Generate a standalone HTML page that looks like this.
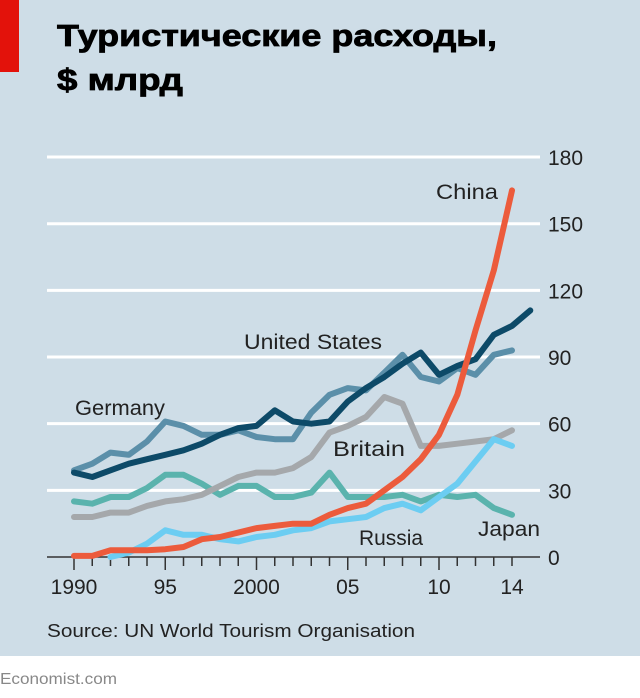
<!DOCTYPE html>
<html><head><meta charset="utf-8"><style>
body{margin:0;width:640px;height:698px;overflow:hidden;background:#fff;font-family:"Liberation Sans","DejaVu Sans",sans-serif}
svg{display:block}
</style></head><body>
<svg id="s" width="640" height="698" xmlns="http://www.w3.org/2000/svg">
<rect x="0" y="0" width="640" height="656" fill="#cedde7"/>
<rect x="0" y="0" width="19" height="72" fill="#e3120b"/>
<text x="57" y="46" font-family="Liberation Sans, sans-serif" font-weight="bold" font-size="31" fill="#000" stroke="#000" stroke-width="0.8" textLength="440" lengthAdjust="spacingAndGlyphs">Туристические расходы,</text>
<text x="57" y="90" font-family="Liberation Sans, sans-serif" font-weight="bold" font-size="31" fill="#000" stroke="#000" stroke-width="0.8" textLength="126" lengthAdjust="spacingAndGlyphs">$ млрд</text>
<g id="grid" stroke="#fff" stroke-width="3"></g>
<g id="ylab" font-family="Liberation Sans, sans-serif" font-size="21" fill="#222"></g>
<g id="ticks" stroke="#333" stroke-width="1.5"></g>
<g id="xlab" font-family="Liberation Sans, sans-serif" font-size="21" fill="#222"></g>
<g id="lines" fill="none" stroke-width="6" stroke-linejoin="round" stroke-linecap="round"></g>
<g font-family="Liberation Sans, sans-serif" font-size="21" fill="#222">
<text x="436" y="199" textLength="62" lengthAdjust="spacingAndGlyphs">China</text>
<text x="244" y="349" textLength="138" lengthAdjust="spacingAndGlyphs">United States</text>
<text x="75" y="415" textLength="90" lengthAdjust="spacingAndGlyphs">Germany</text>
<text x="333" y="456" textLength="72" lengthAdjust="spacingAndGlyphs">Britain</text>
<text x="359" y="545" textLength="64" lengthAdjust="spacingAndGlyphs">Russia</text>
<text x="478" y="536" textLength="62" lengthAdjust="spacingAndGlyphs">Japan</text>
</g>
<text x="47" y="637" font-family="Liberation Sans, sans-serif" font-size="18" fill="#222" textLength="368" lengthAdjust="spacingAndGlyphs">Source: UN World Tourism Organisation</text>
<text x="0" y="684" font-family="Liberation Sans, sans-serif" font-size="16" fill="#888" textLength="117" lengthAdjust="spacingAndGlyphs">Economist.com</text>
</svg>
<script>
var NS="http://www.w3.org/2000/svg";
function el(p,t,a){var e=document.createElementNS(NS,t);for(var k in a)e.setAttribute(k,a[k]);document.getElementById(p).appendChild(e);return e;}
function X(yr){return 74+(yr-1990)*18.25;}
function Y(v){return 557-v*2.222;}
[30,60,90,120,150,180].forEach(function(v){el("grid","line",{x1:47,x2:540,y1:Y(v),y2:Y(v)});var t=el("ylab","text",{x:548,y:Y(v)+8});t.textContent=v;});
el("ticks","line",{x1:47,x2:540,y1:557,y2:557});
for(var yr=1990;yr<=2014;yr++){var maj=(yr%5==0);el("ticks","line",{x1:X(yr),x2:X(yr),y1:557,y2:maj?570:566});}
el("ylab","text",{x:548,y:565}).textContent="0";
[["1990",1990],["95",1995],["2000",2000],["05",2005],["10",2010],["14",2014]].forEach(function(a){var t=el("xlab","text",{x:X(a[1]),y:594,"text-anchor":"middle"});t.textContent=a[0];});
var S=[
["#5ab3ad",[25,24,27,27,31,37,37,33,28,32,32,27,27,29,38,27,27,27,28,25,28,27,28,22,19],1990],
["#a5a8ab",[18,18,20,20,23,25,26,28,32,36,38,38,40,45,56,59,63,72,69,50,50,51,52,53,57],1990],
["#6ccdf2",[0,2,6,12,10,10,8,7,9,10,12,13,16,17,18,22,24,21,27,33,43,53,50],1992],
["#5b8fa9",[39,42,47,46,52,61,59,55,55,57,54,53,53,65,73,76,75,83,91,81,79,85,82,91,93],1990],
["#0d4a68",[38,36,39,42,44,46,48,51,55,58,59,66,61,60,61,70,76,81,87,92,82,86,89,100,104,111],1990],
["#ec5b3c",[0.5,0.5,3,3,3,3.5,4.5,8,9,11,13,14,15,15,19,22,24,30,36,44,55,73,102,129,165],1990]
];
S.forEach(function(s){var pts=s[1].map(function(v,i){return X(s[2]+i).toFixed(1)+","+Y(v).toFixed(1);}).join(" ");el("lines","polyline",{points:pts,stroke:s[0]});});
</script>
</body></html>
